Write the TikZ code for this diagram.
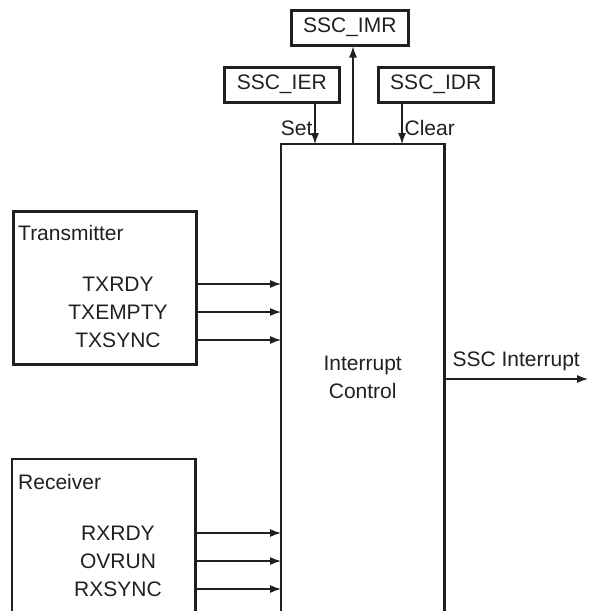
\documentclass[tikz,border=0pt]{standalone}
\usepackage{fontspec}
\setmainfont{Liberation Sans}
\usetikzlibrary{arrows.meta}
\definecolor{ink}{RGB}{35,31,32}
\begin{document}
\begin{tikzpicture}[x=1pt,y=-1pt, color=ink,
  every node/.style={font=\fontsize{21}{28}\selectfont, inner sep=0pt, text=ink},
  reg/.style={draw, line width=2.5pt, minimum height=35pt, anchor=north west},
  blk/.style={line width=2.5pt},
  sig/.style={line width=1.2pt, -{Latex[length=11pt,width=8pt]}},
  lbl/.style={anchor=west}]
\useasboundingbox (0,0) rectangle (589,611);
% registers
\node[reg, minimum width=117pt] (imr) at (290,9) {SSC\_IMR};
\node[reg, minimum width=115pt] (ier) at (223,66) {SSC\_IER};
\node[reg, minimum width=115pt] (idr) at (377,66) {SSC\_IDR};
% interrupt control block (open at bottom)
\node[minimum width=163pt, minimum height=467pt, anchor=north west, align=center] (ctrl) at (281,144) {Interrupt\\Control};
\draw[blk] (ctrl.south west) -- (ctrl.north west) -- (ctrl.north east) -- (ctrl.south east);
% transmitter
\node[draw, line width=2.5pt, minimum width=183pt, minimum height=153pt, anchor=north west] (tx) at (12,210) {};
\node[lbl] (txl) at (18,233) {Transmitter};
\node (txrdy) at (118,284) {TXRDY};
\node (txempty) at (118,312) {TXEMPTY};
\node (txsync) at (118,340) {TXSYNC};
% receiver (open at bottom)
\node[minimum width=183pt, minimum height=152pt, anchor=north west] (rx) at (12,459) {};
\draw[blk] (rx.south west) -- (rx.north west) -- (rx.north east) -- (rx.south east);
\node[lbl] (rxl) at (18,482) {Receiver};
\node (rxrdy) at (118,533) {RXRDY};
\node (ovrun) at (118,561) {OVRUN};
\node (rxsync) at (118,589) {RXSYNC};
% signal arrows
\foreach \s in {txrdy,txempty,txsync}{
  \draw[sig] (tx.east |- \s) -- (ctrl.west |- \s);
}
\foreach \s in {rxrdy,ovrun,rxsync}{
  \draw[sig] (rx.east |- \s) -- (ctrl.west |- \s);
}
% register arrows
\coordinate (setx) at (315,0);
\coordinate (clrx) at (402,0);
\coordinate (imrx) at (353,0);
\draw[sig] (setx |- ier.south) -- node[left=2pt, pos=0.6] (setl) {Set} (setx |- ctrl.north);
\draw[sig] (clrx |- idr.south) -- node[right=2pt, pos=0.6] (clrl) {Clear} (clrx |- ctrl.north);
\draw[sig] (imrx |- ctrl.north) -- (imrx |- imr.south);
% output
\coordinate (outend) at (588,379);
\draw[sig] (ctrl.east |- outend) -- node[above=8pt, pos=0.5] (outl) {SSC Interrupt} (outend);
\end{tikzpicture}
\end{document}
